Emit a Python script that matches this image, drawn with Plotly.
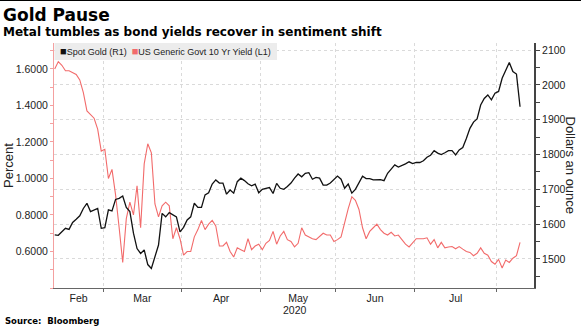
import pandas as pd
import plotly.graph_objects as go

# Trading days (weekdays) covered by the chart
dates = pd.bdate_range("2020-02-11", "2020-08-11")

# Spot gold, dollars an ounce (right axis)
gold = [
    1569, 1568, 1578, 1588, 1585, 1605, 1614, 1624, 1645, 1660,
    1636, 1641, 1645, 1588, 1590, 1641, 1638, 1671, 1674, 1681,
    1648, 1636, 1574, 1530, 1516, 1526, 1484, 1473, 1509, 1540,
    1631, 1621, 1633, 1628, 1621, 1578, 1591, 1612, 1621, 1660,
    1648, 1648, 1684, 1690, 1715, 1727, 1718, 1718, 1686, 1698,
    1689, 1722, 1732, 1725, 1716, 1710, 1715, 1690, 1700, 1703,
    1705, 1688, 1717, 1703, 1700, 1708, 1718, 1732, 1744, 1736,
    1746, 1748, 1729, 1734, 1732, 1712, 1712, 1718, 1728, 1738,
    1729, 1703, 1715, 1689, 1700, 1717, 1738, 1731, 1731, 1727,
    1728, 1728, 1725, 1746, 1758, 1770, 1764, 1768, 1773, 1779,
    1774, 1777, 1777, 1782, 1792, 1798, 1811, 1804, 1800, 1805,
    1811, 1811, 1799, 1813, 1820, 1846, 1875, 1893, 1902, 1942,
    1961, 1971, 1957, 1976, 1981, 2019, 2043, 2064, 2038, 2031,
    1937,
]

# US generic govt 10-year yield, percent (left axis)
yield10 = [
    1.60, 1.64, 1.62, 1.59, 1.59, 1.58, 1.57, 1.54, 1.47, 1.37,
    1.35, 1.33, 1.27, 1.15, 1.16, 1.00, 1.05, 0.91, 0.73, 0.54,
    0.78, 0.87, 0.80, 0.96, 0.73, 1.08, 1.19, 1.14, 0.86, 0.79,
    0.85, 0.87, 0.85, 0.67, 0.73, 0.67, 0.58, 0.60, 0.60, 0.68,
    0.72, 0.77, 0.72, 0.75, 0.77, 0.74, 0.63, 0.63, 0.65, 0.60,
    0.57, 0.62, 0.61, 0.60, 0.67, 0.61, 0.63, 0.64, 0.61, 0.645,
    0.66, 0.71, 0.64, 0.685, 0.71, 0.665, 0.655, 0.625, 0.645, 0.73,
    0.69, 0.68, 0.67, 0.665, 0.68, 0.70, 0.69, 0.69, 0.655, 0.665,
    0.68, 0.76, 0.835, 0.90, 0.88, 0.83, 0.73, 0.67, 0.71, 0.73,
    0.75, 0.72, 0.70, 0.69, 0.705, 0.685, 0.69, 0.665, 0.64, 0.625,
    0.65, 0.67, 0.67, 0.67, 0.675, 0.64, 0.665, 0.62, 0.65, 0.62,
    0.625, 0.627, 0.615, 0.627, 0.613, 0.60, 0.595, 0.577, 0.59, 0.62,
    0.59, 0.58, 0.545, 0.53, 0.557, 0.51, 0.553, 0.54, 0.563, 0.577,
    0.65,
]

month_names = ["Feb", "Mar", "Apr", "May", "Jun", "Jul"]
yield_ticks = [0.6, 0.8, 1.0, 1.2, 1.4, 1.6]
yield_minor = [0.4, 0.5, 0.6, 0.7, 0.8, 0.9, 1.0, 1.1, 1.2, 1.3, 1.4, 1.5, 1.6, 1.7]
gold_ticks = [1500, 1600, 1700, 1800, 1900, 2000, 2100]

GOLD_COLOR = "#111111"
YIELD_COLOR = "#f26b6b"
TEXT = "#222222"
GRID = "#dadada"
FONT = "Liberation Sans, Arial, sans-serif"
BOLD_FONT = "DejaVu Sans, sans-serif"

# trading-day index on the x axis (no gaps for weekends)
x = list(range(len(dates)))
x_lo, x_hi = -0.2, 133.9

# month boundaries fall halfway between the last and first trading day
bounds = [i - 0.5 for i in range(1, len(dates)) if dates[i].month != dates[i - 1].month]
edges = [x_lo] + bounds
month_centers = [(edges[k] + edges[k + 1]) / 2 for k in range(len(month_names))]

# plot area in page pixels
W, H = 581, 327
L, R, T, B = 54, 534, 43, 288


def px(xp):
    return (xp - L) / (R - L)


def py(yp):
    return (B - yp) / (B - T)


fig = go.Figure()
fig.add_trace(go.Scatter(
    x=x, y=gold, yaxis="y2", mode="lines", name="Spot Gold (R1)",
    line=dict(color=GOLD_COLOR, width=1.3), customdata=dates.strftime("%d %b %Y"),
    hovertemplate="%{customdata}<br>%{y:.2f}<extra></extra>",
))
fig.add_trace(go.Scatter(
    x=x, y=yield10, yaxis="y", mode="lines", name="US Generic Govt 10 Yr Yield (L1)",
    line=dict(color=YIELD_COLOR, width=1.1), customdata=dates.strftime("%d %b %Y"),
    hovertemplate="%{customdata}<br>%{y:.4f}<extra></extra>",
))

fig.update_layout(
    width=W, height=H,
    margin=dict(l=L, r=W - R, t=T, b=H - B, pad=0),
    paper_bgcolor="white", plot_bgcolor="white",
    showlegend=False,
    font=dict(family=FONT, size=10, color=TEXT),
    xaxis=dict(
        range=[x_lo, x_hi], tickmode="array", tickvals=month_centers, ticktext=month_names,
        ticks="", showgrid=False, zeroline=False,
        showline=True, linecolor="#666666", linewidth=1,
        tickfont=dict(size=10.5, color=TEXT),
        minor=dict(tickmode="array", tickvals=bounds, ticks="outside", ticklen=3,
                   tickcolor="#666666", showgrid=True, gridcolor=GRID,
                   griddash="dot", gridwidth=1),
    ),
    yaxis=dict(
        range=[0.4, 1.742], tickmode="array", tickvals=yield_ticks,
        ticktext=[f"{v:.4f}" for v in yield_ticks],
        ticks="outside", ticklen=3, tickcolor="#f4a0a0",
        showline=True, linecolor="#f4a0a0", linewidth=1,
        showgrid=False, zeroline=False,
        tickfont=dict(size=10.5, color=TEXT),
        minor=dict(tickmode="array", tickvals=yield_minor, ticks="outside", ticklen=3,
                   tickcolor="#f4a0a0", showgrid=False),
    ),
    yaxis2=dict(
        range=[1416.7, 2120.1], overlaying="y", side="right", anchor="x",
        tickmode="array", tickvals=gold_ticks, ticktext=[str(v) for v in gold_ticks],
        ticks="outside", ticklen=4, tickcolor="#444444",
        showline=True, linecolor="#444444", linewidth=2,
        showgrid=True, gridcolor=GRID, griddash="dot", gridwidth=1,
        zeroline=False,
        tickfont=dict(size=10.5, color=TEXT),
        minor=dict(dtick=50, tick0=1400, ticks="outside", ticklen=4,
                   tickcolor="#444444", showgrid=False),
    ),
)

# legend strip across the top-left of the plot
fig.add_shape(type="rect", xref="paper", yref="paper",
              x0=px(54.5), x1=px(277), y0=py(60), y1=py(43),
              fillcolor="#ececec", line=dict(width=0), layer="above")
fig.add_shape(type="line", xref="paper", yref="paper",
              x0=px(0), x1=px(W), y0=py(0.5), y1=py(0.5),
              line=dict(color="#000000", width=1))

nb = "\u00a0"
legend_text = (f'<span style="color:{GOLD_COLOR};font-size:11px">■</span>Spot Gold (R1){nb}{nb}'
               f'<span style="color:{YIELD_COLOR};font-size:11px">■</span>US Generic Govt 10 Yr Yield (L1)')

annotations = [
    dict(text="<b>Gold Pause</b>", x=px(1), y=py(15), xanchor="left", yanchor="middle",
         font=dict(family=BOLD_FONT, size=17, color="#000000")),
    dict(text="<b>Metal tumbles as bond yields recover in sentiment shift</b>",
         x=px(1), y=py(31.5), xanchor="left", yanchor="middle",
         font=dict(family=BOLD_FONT, size=12, color="#000000")),
    dict(text=legend_text, x=px(58), y=py(51.5), xanchor="left", yanchor="middle",
         font=dict(family=FONT, size=9, color=TEXT)),
    dict(text="Percent", x=px(8.5), y=py(165.5), xanchor="center", yanchor="middle",
         textangle=-90, font=dict(family=FONT, size=13, color=TEXT)),
    dict(text="Dollars an ounce", x=px(570), y=py(165.5), xanchor="center", yanchor="middle",
         textangle=90, font=dict(family=FONT, size=13, color=TEXT)),
    dict(text="2020", x=px(294.5), y=py(309.5), xanchor="center", yanchor="middle",
         font=dict(family=FONT, size=10.5, color=TEXT)),
    dict(text="<b>Source:  Bloomberg</b>", x=px(2.5), y=py(320.5), xanchor="left", yanchor="middle",
         font=dict(family=BOLD_FONT, size=8.5, color="#000000")),
]
for a in annotations:
    a.update(xref="paper", yref="paper", showarrow=False)
fig.update_layout(annotations=annotations)

fig.write_html("out.html")
